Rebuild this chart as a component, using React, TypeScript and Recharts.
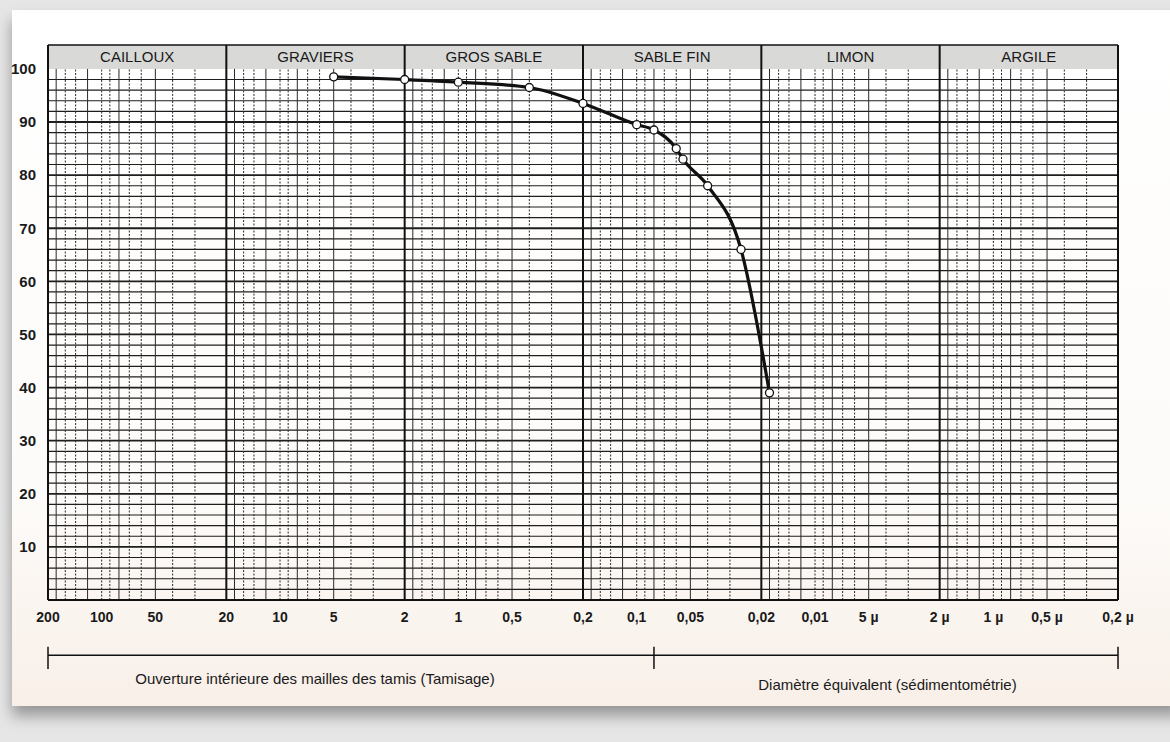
import { Line, LineChart, ReferenceArea, ReferenceLine, XAxis, YAxis } from "recharts"

// points (diamètre en mm, % de passants)
const DIAMETERS = [5, 2, 1, 0.4, 0.2, 0.1, 0.08, 0.06, 0.055, 0.04, 0.026, 0.018]
const PASSING = [98.5, 98, 97.5, 96.5, 93.5, 89.5, 88.5, 85, 83, 78, 66, 39]

const ZONE_NAMES = ["CAILLOUX", "GRAVIERS", "GROS SABLE", "SABLE FIN", "LIMON", "ARGILE"]
const ZONE_BOUNDS = [200, 20, 2, 0.2, 0.02, 0.002, 0.0002]

const X_TICKS = [200, 100, 50, 20, 10, 5, 2, 1, 0.5, 0.2, 0.1, 0.05, 0.02, 0.01, 0.005, 0.002, 0.001, 0.0005, 0.0002]
const X_TICK_LABELS = ["200", "100", "50", "20", "10", "5", "2", "1", "0,5", "0,2", "0,1", "0,05", "0,02", "0,01", "5 µ", "2 µ", "1 µ", "0,5 µ", "0,2 µ"]
const Y_TICKS = [10, 20, 30, 40, 50, 60, 70, 80, 90, 100]

// limite tamisage / sédimentométrie
const SPLIT = 0.08
const CAPTIONS = ["Ouverture intérieure des mailles des tamis (Tamisage)", "Diamètre équivalent (sédimentométrie)"]

// sous-divisions de chaque décade (fraction de la borne haute)
const MINOR_STEPS = [0.9, 0.8, 0.7, 0.6, 0.5, 0.45, 0.4, 0.35, 0.3, 0.25, 0.2, 0.15]
const H_STEPS = Array.from({ length: 49 }, (_, i) => (i + 1) * 2)

const TOP = 104.5
const BRACKET_Y = -10.4

const data = DIAMETERS.map((d, i) => ({ d, p: PASSING[i] }))

const minorLines = ZONE_BOUNDS.slice(0, -1).flatMap((top) => MINOR_STEPS.map((k) => top * k))

const font = "'Liberation Sans', Arial, sans-serif"

export default function App() {
    return (
        <div style={{ position: "absolute", left: 0, top: 0, width: 1170, height: 742, background: "#e6e6e6", overflow: "hidden", fontFamily: font }}>
            <div
                style={{
                    position: "absolute",
                    left: 12,
                    top: 10,
                    width: 1170,
                    height: 696,
                    background: "linear-gradient(180deg, #ffffff 0%, #fdfbf9 70%, #f8efe8 100%)",
                    boxShadow: "0 10px 14px rgba(0,0,0,0.35)",
                }}
            />
            <div style={{ position: "absolute", left: 0, top: 0 }}>
                <LineChart width={1170} height={742} data={data} margin={{ top: 45, right: 52, bottom: 112, left: 8 }}>
                    <XAxis
                        dataKey="d"
                        type="number"
                        scale="log"
                        domain={[0.0002, 200]}
                        allowDataOverflow
                        reversed
                        ticks={X_TICKS}
                        tickFormatter={(v: number) => X_TICK_LABELS[X_TICKS.indexOf(v)] ?? ""}
                        axisLine={false}
                        tickLine={false}
                        tickSize={0}
                        tickMargin={12}
                        height={30}
                        interval={0}
                        tick={{ fill: "#1a1a1a", fontSize: 14, fontWeight: 600, fontFamily: font }}
                    />
                    <YAxis
                        type="number"
                        domain={[0, TOP]}
                        allowDataOverflow
                        ticks={Y_TICKS}
                        axisLine={false}
                        tickLine={false}
                        tickSize={0}
                        tickMargin={12}
                        width={40}
                        interval={0}
                        tick={{ fill: "#1a1a1a", fontSize: 15, fontWeight: 600, fontFamily: font }}
                    />

                    {/* bandeau des classes granulométriques */}
                    {ZONE_NAMES.map((name, i) => (
                        <ReferenceArea
                            key={name}
                            x1={ZONE_BOUNDS[i]}
                            x2={ZONE_BOUNDS[i + 1]}
                            y1={100}
                            y2={TOP}
                            fill="#d9d9d7"
                            fillOpacity={1}
                            stroke="none"
                            label={{ value: name, position: "center", fill: "#1a1a1a", fontSize: 15, fontFamily: font }}
                        />
                    ))}

                    {/* quadrillage */}
                    {H_STEPS.map((y) => (
                        <ReferenceLine key={"h" + y} y={y} stroke="#1e1e1e" strokeWidth={y % 10 === 0 ? 1.8 : 1.2} />
                    ))}
                    {minorLines.map((x, i) => (
                        <ReferenceLine
                            key={"v" + i}
                            segment={[
                                { x, y: 0 },
                                { x, y: 100 },
                            ]}
                            stroke="#2a2a2a"
                            strokeWidth={1}
                            strokeDasharray={i % 3 === 0 ? undefined : "2 1.5"}
                        />
                    ))}
                    {ZONE_BOUNDS.map((x) => (
                        <ReferenceLine key={"z" + x} x={x} stroke="#111" strokeWidth={2} />
                    ))}
                    <ReferenceLine y={0} stroke="#111" strokeWidth={2} />
                    <ReferenceLine y={TOP} stroke="#111" strokeWidth={1.5} />

                    {/* accolades tamisage / sédimentométrie */}
                    <ReferenceLine
                        segment={[
                            { x: 200, y: BRACKET_Y },
                            { x: 0.0002, y: BRACKET_Y },
                        ]}
                        ifOverflow="visible"
                        stroke="#111"
                        strokeWidth={1.5}
                    />
                    {[200, SPLIT, 0.0002].map((x) => (
                        <ReferenceLine
                            key={"b" + x}
                            segment={[
                                { x, y: BRACKET_Y + 1.6 },
                                { x, y: BRACKET_Y - 2.6 },
                            ]}
                            ifOverflow="visible"
                            stroke="#111"
                            strokeWidth={1.5}
                        />
                    ))}

                    <Line
                        type="monotone"
                        dataKey="p"
                        stroke="#111"
                        strokeWidth={3.2}
                        dot={{ r: 4, fill: "#fff", stroke: "#111", strokeWidth: 1.3 }}
                        isAnimationActive={false}
                    />
                </LineChart>
            </div>
            <div style={{ position: "absolute", left: 45, width: 540, top: 670, textAlign: "center", fontSize: 15, color: "#1a1a1a" }}>{CAPTIONS[0]}</div>
            <div style={{ position: "absolute", left: 660, width: 455, top: 676, textAlign: "center", fontSize: 15, color: "#1a1a1a" }}>{CAPTIONS[1]}</div>
        </div>
    )
}
